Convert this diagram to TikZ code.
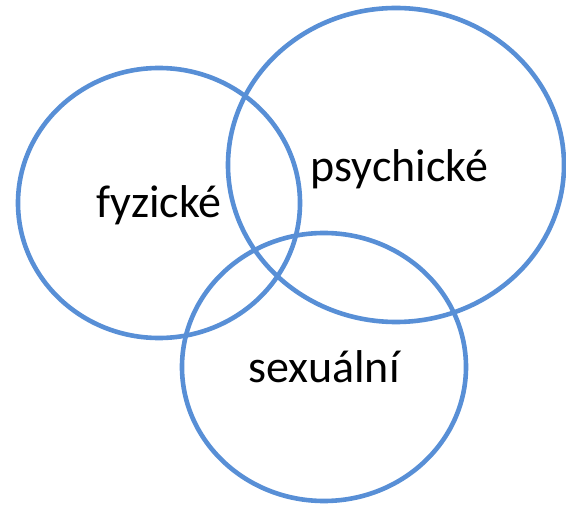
\documentclass[tikz,border=0pt]{standalone}
\usepackage{fontspec}
\setmainfont{Carlito}
\definecolor{ringblue}{RGB}{88,143,214}
\begin{document}
\begin{tikzpicture}[x=1pt,y=-1pt,
  ring/.style={draw=ringblue,line width=4.6pt},
  lbl/.style={anchor=base,inner sep=0pt,font=\fontsize{46}{55}\selectfont}]
\useasboundingbox (0,0) rectangle (566,505);
\draw[ring] (159,203) ellipse [x radius=141, y radius=135];
\draw[ring] (396,165) ellipse [x radius=168, y radius=157];
\draw[ring] (324,367) ellipse [x radius=142, y radius=134];
\node[lbl] (f) at (159,218) {fyzické};
\node[lbl] (p) at (399.5,182) {psychické};
\node[lbl] (s) at (324,383) {sexuální};
\end{tikzpicture}
\end{document}
